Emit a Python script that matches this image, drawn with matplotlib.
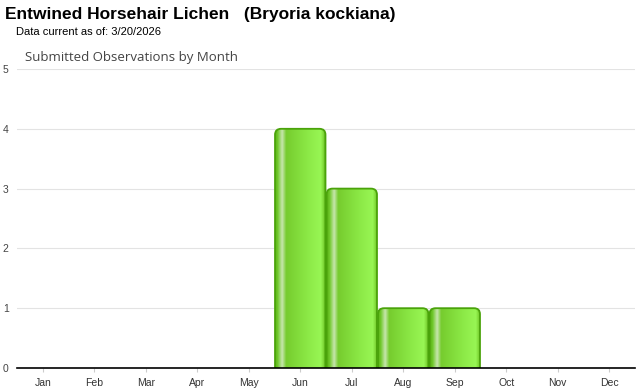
import matplotlib
matplotlib.use("Agg")
import matplotlib.pyplot as plt
import numpy as np
from matplotlib.patches import FancyBboxPatch
from matplotlib.colors import LinearSegmentedColormap

months = ["Jan", "Feb", "Mar", "Apr", "May", "Jun", "Jul", "Aug", "Sep", "Oct", "Nov", "Dec"]
counts = [0, 0, 0, 0, 0, 4, 3, 1, 1, 0, 0, 0]
yticks = [0, 1, 2, 3, 4, 5]

plt.rcParams['font.family'] = ['Liberation Sans', 'DejaVu Sans']

fig = plt.figure(figsize=(6.4, 3.9), dpi=100)
W, H = 640, 390
ax = fig.add_axes([17 / W, (H - 368) / H, (635 - 17) / W, (368 - 69) / H])

x = np.arange(len(months))
bars = ax.bar(x, counts, width=0.98, color='none', edgecolor='none')

ax.set_xlim(-0.5, len(months) - 0.5)
ax.set_ylim(0, 5)
ax.set_yticks(yticks)
ax.set_xticks(x)
ax.set_xticklabels(months)
ax.yaxis.grid(True, color='#e3e3e3', lw=0.8)
ax.set_axisbelow(True)
for s in ['top', 'right', 'left']:
    ax.spines[s].set_visible(False)
ax.spines['bottom'].set_color('#000000')
ax.spines['bottom'].set_linewidth(1.2)
ax.spines['bottom'].set_zorder(5)
ax.tick_params(axis='y', length=0, labelsize=7.5, pad=6, labelcolor='#444444')
ax.tick_params(axis='x', length=3, color='#cccccc', labelsize=7.5, pad=4, labelcolor='#333333')

cmap = LinearSegmentedColormap.from_list('g', [
    (0.0, '#5cb018'), (0.05, '#6ec828'), (0.14, '#c8e6ae'), (0.22, '#76cc2e'),
    (0.6, '#8ae644'), (0.9, '#98f654'), (0.96, '#7cd434'), (1.0, '#54a812')])
grad = np.linspace(0, 1, 256).reshape(1, -1)

# pixel-to-data scales for rounded corners
px_x = 1.0 / 51.5
px_y = 5.0 / 299.0
r = 6 * px_x
for b in bars:
    h = b.get_height()
    if h <= 0:
        continue
    bx, bw = b.get_x(), b.get_width()
    patch = FancyBboxPatch((bx, -0.2), bw, h + 0.2,
                           boxstyle=f"round,pad=0,rounding_size={r}",
                           mutation_aspect=px_y / px_x,
                           facecolor='none', edgecolor='#4aa30a', lw=1.3, zorder=3)
    ax.add_patch(patch)
    im = ax.imshow(grad, cmap=cmap, extent=(bx, bx + bw, -0.2, h), aspect='auto',
                   zorder=2, interpolation='bilinear')
    im.set_clip_path(patch)

ax.set_xlim(-0.5, len(months) - 0.5)
ax.set_ylim(0, 5)

fig.text(5 / W, 1 - 15 / H, "Entwined Horsehair Lichen   (Bryoria kockiana)",
         fontsize=12.5, fontweight='bold', va='center', ha='left')
fig.text(16 / W, 1 - 32 / H, "Data current as of: 3/20/2026",
         fontsize=8, va='center', ha='left')
fig.text(25 / W, 1 - 58 / H, "Submitted Observations by Month",
         fontsize=9.5, va='center', ha='left', color='#444444',
         family=['Open Sans', 'DejaVu Sans'])

fig.savefig("out.png", dpi=100)
